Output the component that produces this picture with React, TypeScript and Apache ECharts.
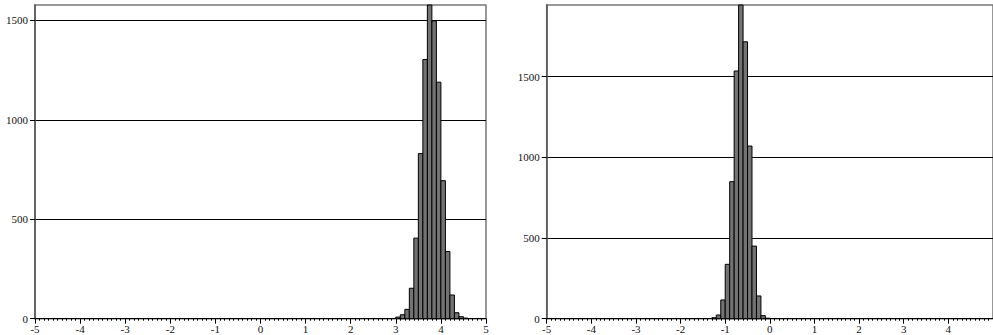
import React, { useEffect, useRef } from "react";
import * as echarts from "echarts";

// Left histogram: bin starts (width 0.1) and counts
const leftBinStarts = [3.0, 3.1, 3.2, 3.3, 3.4, 3.5, 3.6, 3.7, 3.8, 3.9, 4.0, 4.1, 4.2, 4.3, 4.4, 4.5];
const leftCounts = [8, 20, 47, 153, 405, 830, 1303, 1577, 1497, 1189, 694, 338, 119, 30, 10, 3];

// Right histogram
const rightBinStarts = [-1.3, -1.2, -1.1, -1.0, -0.9, -0.8, -0.7, -0.6, -0.5, -0.4, -0.3, -0.2, -0.1];
const rightCounts = [6, 23, 116, 337, 849, 1535, 1944, 1716, 1070, 450, 141, 19, 3];

const binWidth = 0.1;
const yTicks = [0, 500, 1000, 1500];
const leftYMax = 1577;
const rightYMax = 1944;

const FONT = "Liberation Serif";

function toData(starts: number[], counts: number[]) {
  return starts.map((s, i) => [s, +(s + binWidth).toFixed(2), counts[i]]);
}

export default function App() {
  const ref = useRef<HTMLDivElement>(null);
  useEffect(() => {
    if (!ref.current) return;
    const chart = echarts.init(ref.current, undefined, { renderer: "svg" });
    const renderItem = (params: any, api: any) => {
      const x0 = api.value(0);
      const x1 = api.value(1);
      const v = api.value(2);
      const p0 = api.coord([x0, v]);
      const p1 = api.coord([x1, 0]);
      return {
        type: "rect",
        shape: { x: p0[0], y: p0[1], width: p1[0] - p0[0], height: p1[1] - p0[1] },
        style: { fill: "#737373", stroke: "#000", lineWidth: 1 },
      };
    };
    const xAxisBase = (gridIndex: number, max: number, showMax: boolean) => ({
      type: "value",
      gridIndex,
      min: -5,
      max,
      interval: 1,
      axisLine: { show: true, onZero: false, lineStyle: { color: "#000", width: 1 } },
      axisTick: { show: true, length: 5, lineStyle: { color: "#000" } },
      minorTick: { show: true, splitNumber: 10, length: 2, lineStyle: { color: "#000" } },
      splitLine: { show: false },
      axisLabel: {
        fontFamily: FONT,
        fontSize: 11,
        color: "#111",
        margin: 5,
        showMaxLabel: showMax,
        formatter: (v: number) => String(v),
      },
    });
    const yAxisBase = (gridIndex: number, max: number) => ({
      type: "value",
      gridIndex,
      min: 0,
      max,
      interval: 500,
      axisLine: { show: true, onZero: false, lineStyle: { color: "#555", width: 1.5 } },
      axisTick: { show: true, length: 5, customValues: yTicks, lineStyle: { color: "#000" } },
      axisLabel: {
        fontFamily: FONT,
        fontSize: 11,
        color: "#111",
        margin: 7,
        customValues: yTicks,
        formatter: (v: number) => String(v),
      },
      splitLine: { show: true, lineStyle: { color: "#000", width: 1 } },
    });
    chart.setOption({
      animation: false,
      grid: [
        { left: 35, top: 5, width: 451, height: 313.7, show: true, borderColor: "#777", borderWidth: 1.5, containLabel: false },
        { left: 546.7, top: 5, width: 451, height: 313.7, show: true, borderColor: "#777", borderWidth: 1.5, containLabel: false },
      ],
      xAxis: [xAxisBase(0, 5, true), xAxisBase(1, 5, false)],
      yAxis: [yAxisBase(0, leftYMax), yAxisBase(1, rightYMax)],
      series: [
        {
          type: "custom",
          xAxisIndex: 0,
          yAxisIndex: 0,
          renderItem,
          encode: { x: [0, 1], y: 2 },
          data: toData(leftBinStarts, leftCounts),
        },
        {
          type: "custom",
          xAxisIndex: 1,
          yAxisIndex: 1,
          renderItem,
          encode: { x: [0, 1], y: 2 },
          data: toData(rightBinStarts, rightCounts),
        },
      ],
    });
    return () => chart.dispose();
  }, []);
  return (
    <div
      ref={ref}
      style={{ position: "fixed", left: 0, top: 0, width: 993, height: 335, overflow: "hidden", background: "#fff" }}
    />
  );
}
